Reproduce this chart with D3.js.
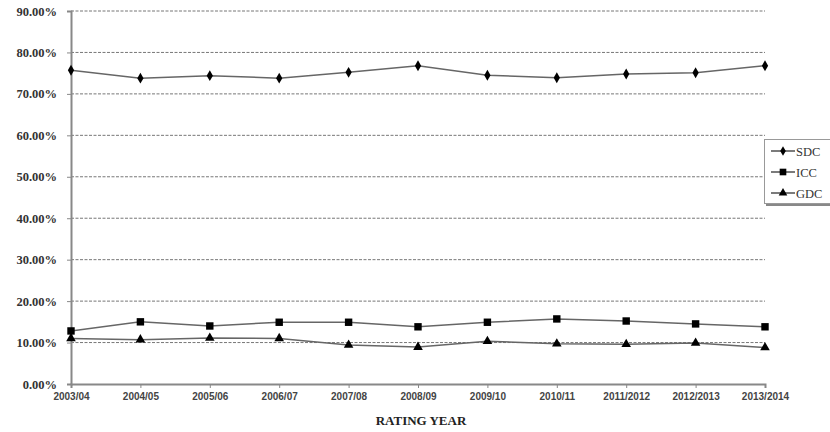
<!DOCTYPE html>
<html><head><meta charset="utf-8">
<script src="https://cdn.jsdelivr.net/npm/d3@7"></script>
<style>body{margin:0;background:#fff}svg{display:block}</style>
</head><body><svg id="c" width="830" height="432"></svg>
<script>
const years = ["2003/04","2004/05","2005/06","2006/07","2007/08","2008/09","2009/10","2010/11","2011/2012","2012/2013","2013/2014"];
const sdc = [75.7,73.8,74.4,73.8,75.2,76.8,74.5,73.9,74.8,75.1,76.8];
const icc = [12.8,15.0,14.0,14.9,14.9,13.8,14.9,15.7,15.2,14.5,13.8];
const gdc = [11.0,10.7,11.1,11.0,9.4,8.9,10.3,9.7,9.6,9.9,8.8];
const yTicks = [0,10,20,30,40,50,60,70,80,90];
const yTickLabels = ["0.00%","10.00%","20.00%","30.00%","40.00%","50.00%","60.00%","70.00%","80.00%","90.00%"];
const seriesNames = ["SDC","ICC","GDC"];
const xTitle = "RATING YEAR";

const svg = d3.select("#c");
const L = 71, R = 765, T = 11, B = 384;
const x = d3.scalePoint().domain(years).range([L, R]);
const y = d3.scaleLinear().domain([0, 90]).range([B, T]);

// gridlines
svg.append("g").selectAll("line").data(yTicks.filter(d => d > 0)).join("line")
  .attr("x1", L).attr("x2", R).attr("y1", d => y(d)).attr("y2", d => y(d))
  .attr("stroke", "#777").attr("stroke-width", 1).attr("stroke-dasharray", "3,1.5");

// y axis
const ya = d3.axisLeft(y).tickValues(yTicks).tickFormat((d, i) => yTickLabels[i]).tickSize(4).tickPadding(10);
const gy = svg.append("g").attr("transform", `translate(${L},0)`).call(ya);
gy.select(".domain").attr("stroke", "#888").attr("stroke-width", 2);
gy.selectAll(".tick line").attr("stroke", "#888");
gy.selectAll("text").attr("font-family", "Liberation Serif, Times New Roman, serif")
  .attr("font-size", 12.5).attr("font-weight", "bold").attr("fill", "#333");

// x axis
const xa = d3.axisBottom(x).tickSize(4).tickPadding(5);
const gx = svg.append("g").attr("transform", `translate(0,${B})`).call(xa);
gx.select(".domain").attr("stroke", "#888").attr("stroke-width", 2);
gx.selectAll(".tick line").attr("stroke", "#888");
gx.selectAll("text").attr("font-family", "Liberation Sans, Arial, sans-serif")
  .attr("font-size", 10).attr("font-weight", "bold").attr("fill", "#444");

svg.append("text").attr("x", (L + R) / 2 + 3).attr("y", 425).attr("text-anchor", "middle")
  .attr("font-family", "Liberation Serif, Times New Roman, serif").attr("font-size", 13)
  .attr("font-weight", "bold").attr("fill", "#222").text(xTitle);

const symbols = [d3.symbolDiamond, d3.symbolSquare, d3.symbolTriangle];
const sizes = [34, 55, 40];
const data = [sdc, icc, gdc];
const line = d3.line().x((d, i) => x(years[i])).y(d => y(d));

data.forEach((vals, k) => {
  svg.append("path").datum(vals).attr("d", line).attr("fill", "none")
    .attr("stroke", "#666").attr("stroke-width", 1.5);
  svg.append("g").selectAll("path").data(vals).join("path")
    .attr("transform", (d, i) => `translate(${x(years[i])},${y(d)})`)
    .attr("d", d3.symbol().type(symbols[k]).size(sizes[k]))
    .attr("fill", "#000");
});

// legend
const lg = svg.append("g");
lg.append("rect").attr("x", 766).attr("y", 203).attr("width", 70).attr("height", 3).attr("fill", "#888");
lg.append("rect").attr("x", 764.5).attr("y", 139.5).attr("width", 70).attr("height", 64)
  .attr("fill", "#fff").attr("stroke", "#999");
const ly = [151, 172, 193];
seriesNames.forEach((n, k) => {
  lg.append("line").attr("x1", 771).attr("x2", 795).attr("y1", ly[k]).attr("y2", ly[k])
    .attr("stroke", "#333").attr("stroke-width", 1.3);
  lg.append("path").attr("transform", `translate(783,${ly[k]})`)
    .attr("d", d3.symbol().type(symbols[k]).size(sizes[k] * 0.8)).attr("fill", "#000");
  lg.append("text").attr("x", 796).attr("y", ly[k] + 4.5)
    .attr("font-family", "Liberation Serif, Times New Roman, serif").attr("font-size", 12.5)
    .attr("fill", "#333").text(n);
});
</script></body></html>
